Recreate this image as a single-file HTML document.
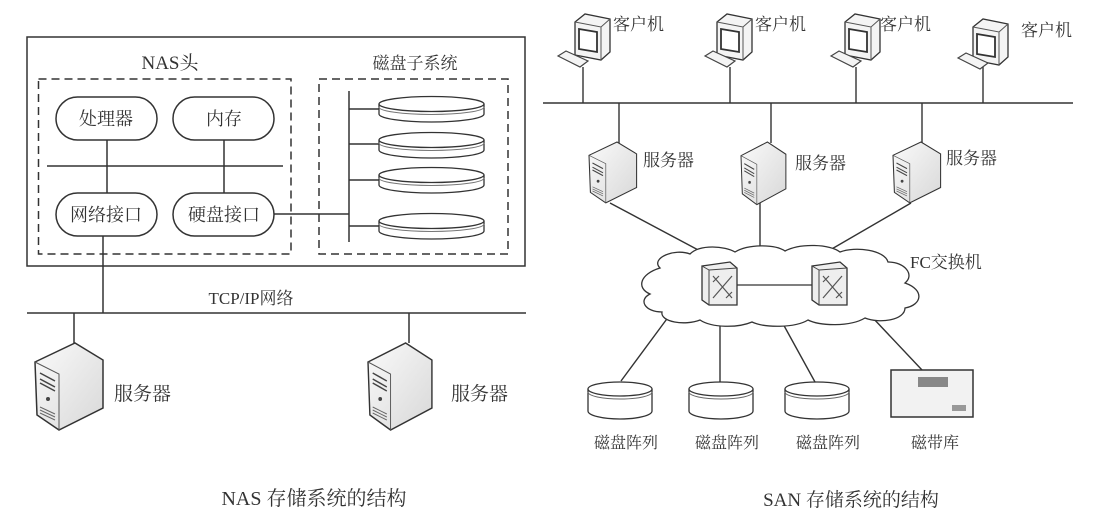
<!DOCTYPE html>
<html><head><meta charset="utf-8"><style>
html,body{margin:0;padding:0;background:#fff;}
svg{display:block;}
text{font-family:"Liberation Serif","Noto Serif CJK SC","Noto Sans CJK SC",serif;fill:#333;}
</style></head><body>
<svg width="1116" height="526" viewBox="0 0 1116 526" xmlns="http://www.w3.org/2000/svg">
<defs>
<linearGradient id="g1" x1="0" y1="0" x2="1" y2="1"><stop offset="0" stop-color="#fafafa"/><stop offset="1" stop-color="#d8d8d8"/></linearGradient>
<g id="srv">
 <path d="M0,19 L40,0 L68,17 L68,65 L24,87 L2,72 Z" fill="url(#g1)" stroke="#333" stroke-width="1.5"/>
 <path d="M0,19 L24,31 L24,87" fill="none" stroke="#555" stroke-width="1"/>
 <path d="M5,30 L20,38 M5,36 L20,44 M5,40 L20,48" stroke="#444" stroke-width="1.5"/>
 <circle cx="13" cy="56" r="2" fill="#444"/>
 <path d="M5,64 L20,71 M5,67 L20,74 M5,70 L20,77" stroke="#666" stroke-width="1"/>
</g>
<g id="mon">
 <path d="M0,8 L10,0 L35,5 L35,38 L26,46 L0,41 Z" fill="#f4f4f4" stroke="#333" stroke-width="1.3"/>
 <path d="M0,8 L26,13 L35,5 M26,13 L26,46" fill="none" stroke="#555"/>
 <path d="M4,15 L22,18 L22,38 L4,35 Z" fill="#fff" stroke="#333" stroke-width="1.8"/>
</g>
<g id="kb">
 <path d="M0,5 L8,0 L30,10 L22,16 Z" fill="#f4f4f4" stroke="#444" stroke-width="1.2"/>
</g>
<g id="cyl">
 <path d="M0,8 L0,30 A32,8 0 0 0 64,30 L64,8" fill="#fff" stroke="#333" stroke-width="1.3"/>
 <ellipse cx="32" cy="8" rx="32" ry="7" fill="#fff" stroke="#333" stroke-width="1.3"/>
 <path d="M0,11 A32,7 0 0 0 64,11" fill="none" stroke="#666"/>
</g>
<g id="dsk">
 <path d="M0,8 L0,18 A52.5,8 0 0 0 105,18 L105,8" fill="#fff" stroke="#333" stroke-width="1.3"/>
 <ellipse cx="52.5" cy="8" rx="52.5" ry="7.5" fill="#fff" stroke="#333" stroke-width="1.3"/>
 <path d="M0,11 A52.5,7.5 0 0 0 105,11" fill="none" stroke="#777"/>
</g>
<g id="sw">
 <path d="M0,4 L28,0 L35,6 L35,43 L7,43 L0,38 Z" fill="#eee" stroke="#333" stroke-width="1.3"/>
 <path d="M7,8 L35,6 M7,8 L7,43 M0,4 L7,8" fill="none" stroke="#444"/>
 <path d="M11,14 L30,36 M30,14 L11,36 M11,20 L17,14 M24,36 L30,30" stroke="#555" stroke-width="1.2"/>
</g>
</defs>

<!-- NAS -->
<g stroke="#333" fill="none" stroke-width="1.5">
 <rect x="27" y="37" width="498" height="229"/>
 <rect x="38.5" y="79" width="252.5" height="175" stroke-dasharray="8,5"/>
 <rect x="319" y="79" width="189" height="175" stroke-dasharray="8,5"/>
 <rect x="56" y="97" width="101" height="43" rx="21.5" fill="#fff"/>
 <rect x="173" y="97" width="101" height="43" rx="21.5" fill="#fff"/>
 <rect x="56" y="193" width="101" height="43" rx="21.5" fill="#fff"/>
 <rect x="173" y="193" width="101" height="43" rx="21.5" fill="#fff"/>
 <path d="M47,166 L283,166 M107,140 L107,193 M224,140 L224,193 M274,214 L349,214 M349,91 L349,242"/>
 <path d="M349,109 L379,109 M349,144 L379,144 M349,180 L379,180 M349,226 L379,226"/>
 <path d="M103,236 L103,313 M27,313 L526,313 M74,313 L74,343 M409,313 L409,343"/>
</g>
<use href="#dsk" x="379" y="96"/>
<use href="#dsk" x="379" y="132"/>
<use href="#dsk" x="379" y="167"/>
<use href="#dsk" x="379" y="213"/>
<text x="170" y="69" font-size="19" text-anchor="middle">NAS头</text>
<text x="415" y="69" font-size="17" text-anchor="middle">磁盘子系统</text>
<text x="106" y="125" font-size="18" text-anchor="middle">处理器</text>
<text x="224" y="125" font-size="18" text-anchor="middle">内存</text>
<text x="106" y="221" font-size="18" text-anchor="middle">网络接口</text>
<text x="224" y="221" font-size="18" text-anchor="middle">硬盘接口</text>
<text x="251" y="304" font-size="17" text-anchor="middle">TCP/IP网络</text>
<use href="#srv" x="35" y="343"/>
<use href="#srv" x="368" y="343" transform="translate(368,343) scale(0.94,1) translate(-368,-343)"/>
<text x="114" y="400" font-size="19">服务器</text>
<text x="451" y="400" font-size="19">服务器</text>
<text x="314" y="505" font-size="20" text-anchor="middle">NAS 存储系统的结构</text>

<!-- SAN -->
<g stroke="#333" fill="none" stroke-width="1.4">
 <path d="M543,103 L1073,103"/>
 <path d="M583,67 L583,103 M730,67 L730,103 M856,67 L856,103 M983,67 L983,103"/>
 <path d="M619,103 L619,143 M771,103 L771,143 M922,103 L922,143"/>
 <path d="M610,203 L702,252 M760,203 L760,250 M911,203 L830,250"/>
 <path d="M672,312 L621,381 M720,320 L720,382 M782,322 L815,382 M872,317 L922,370"/>
</g>
<use href="#mon" x="575" y="14"/><use href="#kb" x="558" y="51"/>
<use href="#mon" x="717" y="14"/><use href="#kb" x="705" y="51"/>
<use href="#mon" x="845" y="14"/><use href="#kb" x="831" y="51"/>
<use href="#mon" x="973" y="19"/><use href="#kb" x="958" y="53"/>
<text x="613" y="30" font-size="17">客户机</text>
<text x="755" y="30" font-size="17">客户机</text>
<text x="880" y="30" font-size="17">客户机</text>
<text x="1021" y="36" font-size="17">客户机</text>
<g transform="translate(589,142) scale(0.7,0.7)"><use href="#srv"/></g>
<g transform="translate(741,142) scale(0.66,0.72)"><use href="#srv"/></g>
<g transform="translate(893,142) scale(0.7,0.7)"><use href="#srv"/></g>
<text x="643" y="166" font-size="17">服务器</text>
<text x="795" y="169" font-size="17">服务器</text>
<text x="946" y="164" font-size="17">服务器</text>
<!-- cloud -->
<path d="M660,268 C650,258 675,248 690,254 C700,244 725,246 735,252 C748,244 775,244 785,251 C800,243 830,244 840,252 C855,246 885,250 888,262 C905,262 915,275 905,283 C925,290 922,305 905,308 C905,320 880,324 865,318 C850,327 820,326 808,320 C795,328 765,328 752,322 C738,328 712,328 700,320 C685,326 660,322 662,312 C645,312 638,300 650,294 C636,288 640,274 660,268 Z" fill="#fff" stroke="#333" stroke-width="1.3"/>
<path d="M737,285 L812,285" stroke="#333" stroke-width="1.3"/>
<use href="#sw" x="702" y="262"/>
<use href="#sw" x="812" y="262"/>
<text x="910" y="268" font-size="17">FC交换机</text>
<use href="#cyl" x="588" y="381"/>
<use href="#cyl" x="689" y="381"/>
<use href="#cyl" x="785" y="381"/>
<rect x="891" y="370" width="82" height="47" fill="#f2f2f2" stroke="#333" stroke-width="1.5"/>
<rect x="918" y="377" width="30" height="10" fill="#888"/>
<rect x="952" y="405" width="14" height="6" fill="#999"/>
<text x="626" y="448" font-size="16" text-anchor="middle">磁盘阵列</text>
<text x="727" y="448" font-size="16" text-anchor="middle">磁盘阵列</text>
<text x="828" y="448" font-size="16" text-anchor="middle">磁盘阵列</text>
<text x="935" y="448" font-size="16" text-anchor="middle">磁带库</text>
<text x="851" y="506" font-size="19" text-anchor="middle">SAN 存储系统的结构</text>
</svg>
</body></html>
